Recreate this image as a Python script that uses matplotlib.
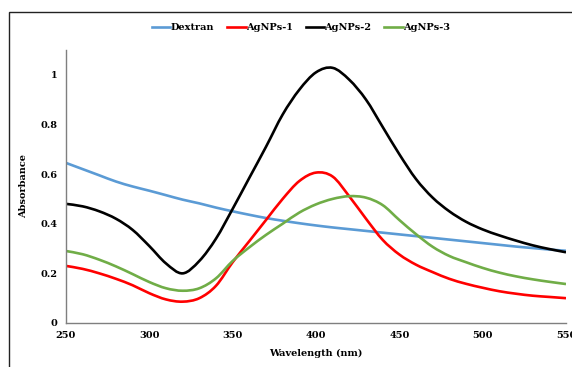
import matplotlib
matplotlib.use("Agg")

import matplotlib.pyplot as plt
from matplotlib.patches import Rectangle, PathPatch
from matplotlib.path import Path
from matplotlib.lines import Line2D

# =========================================================
# DATA
# =========================================================

wavelength = [250, 260, 270, 280, 290, 300, 310, 320, 330, 340,
              350, 360, 370, 380, 390, 400, 410, 420, 430, 440,
              450, 460, 470, 480, 490, 500, 510, 520, 530, 540, 550]

dextran = [0.645, 0.620, 0.595, 0.570, 0.550, 0.533, 0.515, 0.497, 0.482, 0.465,
           0.450, 0.436, 0.423, 0.412, 0.402, 0.393, 0.385, 0.378, 0.371, 0.364,
           0.357, 0.350, 0.343, 0.336, 0.329, 0.322, 0.315, 0.308, 0.302, 0.296, 0.291]

agnps_1 = [0.230, 0.218, 0.200, 0.178, 0.152, 0.120, 0.095, 0.086, 0.100, 0.150,
           0.245, 0.330, 0.415, 0.500, 0.572, 0.606, 0.590, 0.510, 0.420, 0.335,
           0.276, 0.235, 0.205, 0.178, 0.158, 0.142, 0.128, 0.118, 0.110, 0.105, 0.100]

agnps_2 = [0.480, 0.470, 0.450, 0.420, 0.375, 0.310, 0.240, 0.200, 0.250, 0.340,
           0.460, 0.585, 0.710, 0.840, 0.940, 1.010, 1.028, 0.980, 0.900, 0.790,
           0.680, 0.580, 0.505, 0.450, 0.408, 0.377, 0.353, 0.332, 0.313, 0.298, 0.285]

agnps_3 = [0.290, 0.277, 0.255, 0.228, 0.197, 0.165, 0.140, 0.130, 0.140, 0.180,
           0.250, 0.305, 0.355, 0.400, 0.445, 0.478, 0.500, 0.511, 0.505, 0.475,
           0.415, 0.358, 0.307, 0.270, 0.245, 0.222, 0.203, 0.188, 0.176, 0.166, 0.157]

series_names = ["Dextran", "AgNPs-1", "AgNPs-2", "AgNPs-3"]
series_colors = ["#5B9BD5", "#FF0000", "#000000", "#70AD47"]

x_ticks = [250, 300, 350, 400, 450, 500, 550]
y_ticks = [0, 0.2, 0.4, 0.6, 0.8, 1]
y_tick_labels = ["0", "0.2", "0.4", "0.6", "0.8", "1"]


# =========================================================
# SMOOTH LINE (Excel style, bezier through the points)
# =========================================================

def smooth_path(xs, ys):

    verts = [(xs[0], ys[0])]
    codes = [Path.MOVETO]

    n = len(xs)

    for i in range(n - 1):

        x0, y0 = xs[max(i - 1, 0)], ys[max(i - 1, 0)]
        x1, y1 = xs[i], ys[i]
        x2, y2 = xs[i + 1], ys[i + 1]
        x3, y3 = xs[min(i + 2, n - 1)], ys[min(i + 2, n - 1)]

        c1 = (x1 + (x2 - x0) / 6, y1 + (y2 - y0) / 6)
        c2 = (x2 - (x3 - x1) / 6, y2 - (y3 - y1) / 6)

        verts += [c1, c2, (x2, y2)]
        codes += [Path.CURVE4, Path.CURVE4, Path.CURVE4]

    return Path(verts, codes)


# =========================================================
# FIGURE
# =========================================================

plt.rcParams['font.family'] = ['DejaVu Serif']
plt.rcParams['font.weight'] = 'bold'

fig = plt.figure(figsize=(5.72, 3.67), dpi=100)

fig.patches.append(
    Rectangle(
        (9 / 572, -0.2),
        1.2,
        1.2 - 12 / 367,
        transform=fig.transFigure,
        fill=False,
        edgecolor="#222222",
        linewidth=1.0
    )
)

ax = fig.add_axes([66 / 572, 44 / 367, 500 / 572, 273 / 367])

all_series = [dextran, agnps_1, agnps_2, agnps_3]

handles = []

for values, name, color in zip(all_series, series_names, series_colors):

    ax.add_patch(
        PathPatch(
            smooth_path(wavelength, values),
            facecolor="none",
            edgecolor=color,
            linewidth=1.9,
            capstyle="butt"
        )
    )

    handles.append(
        Line2D([], [], color=color, linewidth=1.9, label=name)
    )

# =========================================================
# AXES STYLE
# =========================================================

ax.set_xlim(250, 550)
ax.set_ylim(0, 1.1)

ax.set_xticks(x_ticks)
ax.set_yticks(y_ticks)
ax.set_yticklabels(y_tick_labels)

ax.tick_params(length=0, labelsize=7, pad=6)

for spine in ["top", "right"]:
    ax.spines[spine].set_visible(False)

for spine in ["left", "bottom"]:
    ax.spines[spine].set_color("#7F7F7F")
    ax.spines[spine].set_linewidth(1.0)

ax.set_xlabel("Wavelength (nm)", fontsize=7, fontweight="bold", labelpad=6)
ax.set_ylabel("Absorbance", fontsize=7, fontweight="bold", labelpad=9)

# =========================================================
# LEGEND
# =========================================================

fig.legend(
    handles=handles,
    loc="center",
    bbox_to_anchor=(301 / 572, 1 - 28 / 367),
    ncol=4,
    frameon=False,
    fontsize=7,
    handlelength=1.9,
    handletextpad=0.05,
    columnspacing=1.3
)

fig.savefig("out.png", dpi=100)
